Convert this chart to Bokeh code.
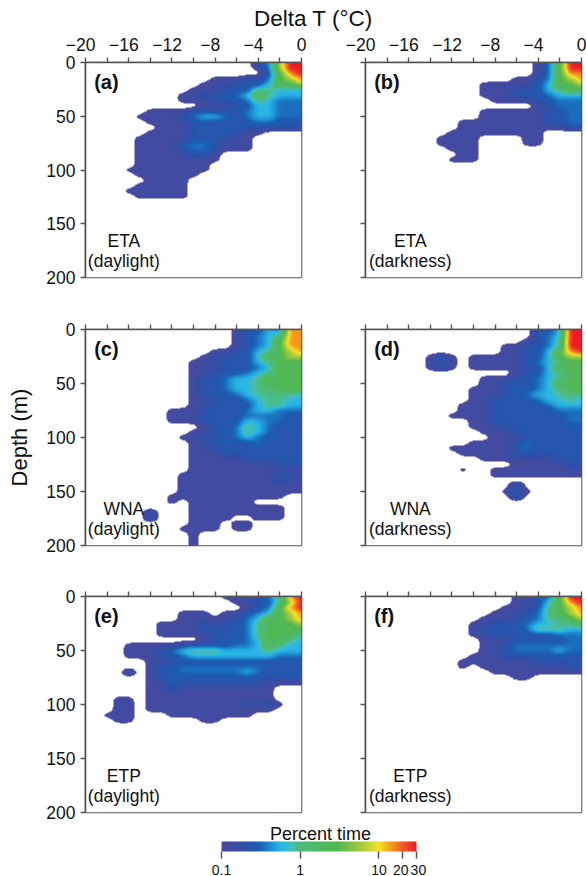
import numpy as np
from bokeh.embed import file_html
from bokeh.layouts import column, row
from bokeh.models import AllLabels, ColorBar, FixedTicker, Label, LogColorMapper, Range1d
from bokeh.plotting import figure
from bokeh.resources import INLINE
from bokeh.core.properties import value

# Each row is one depth (0, 5, 10 ... m); each character one Delta T (-20 ... 0 degC).
# A character is an index into LEVEL_PERCENT. Rows not listed are empty.
LEVEL_PERCENT = [0.075, 0.13, 0.24, 0.34, 0.58, 0.95, 2.5, 6.0, 15.0, 30.0]
DELTA_T = list(range(-20, 1))
DEPTH = list(range(0, 201, 5))

ETA_DAY = [
"000000000000000023799","000000000000000013799","000000000000000002689","000000000000111223678",
"000000000001112224667","000000000011122255444","000000000112223465444","000000000111222354333",
"000000000001112244333","000000111122222344333","000001111234432344333","000000111122222233222",
"000000011122222222222","000000111122222110000","000001111122221100000","000001111233211100000",
"000001111233211100000","000001111122100000000","000001111111100000000","000001111111000000000",
"000011111111000000000","000001111110000000000","000000111100000000000","000001111100000000000",
"000011111100000000000","000001111100000000000"]
ETA_NIGHT = [
"000000000000000013699","000000000000000013699","000000000000000013688","000000000000001123678",
"000000000001111124667","000000000001112224566","000000000001112223444","000000000000111122333",
"000000000000000012333","000000000001111112233","000000000001111112233","000000000111111112233",
"000000000111111111122","000000001111111110000","000000011110000110000","000000011110000110000",
"000000001110000000000","000000000110000000000","000000001110000000000"]
WNA_DAY = [
"000000000000001224388","000000000000001234588","000000000000001234688","000000000000001234688",
"000000000000112245678","000000000001122246677","000000000011222245666","000000000011122234666",
"000000000011222345666","000000000012234456666","000000000012234456666","000000000012234455666",
"000000000012223455554","000000000011222345544","000000000011222245544","000000001112222344333",
"000000001112222333322","000000001112222443322","000000000001223543222","000000000011223543222",
"000000000112223432222","000000000011222232222","000000000011222222222","000000000011122222222",
"000000000011111222222","000000000011111111222","000000000011111111111","000000000111111111221",
"000000000111111111211","000000000111111111111","000000000111111111111","000000001111111111100",
"000000001011111100000","000000000011111111100","000000200011111111100","000000200011110011100",
"000000000011101100000","000000000111101100000","000000000010000000000","000000000010000000000",
"000000000010000000000"]
WNA_NIGHT = [
"000000000000000022499","000000000000000023499","000000000000000123599","000000000000011223599",
"000000000000011224689","000000121011111224677","000000121011111234566","000000121011111224666",
"000000000000001224566","000000000001112234566","000000000001122234666","000000000011122234566",
"000000000011122344555","000000000011222234454","000000000111222223444","000000000111222222333",
"000000001111222222233","000000000011222222233","000000000011122222222","000000000001112222222",
"000000000000111222222","000000000011112322222","000000001111112322222","000000000111112222222",
"000000000001111111222","000000000000001111122","000000000100111111111","000000000000111111111",
"000000000000000000000","000000000000003000000","000000000000012100000","000000000000003000000"]
ETP_DAY = [
"000000000000011123589","000000000000001122579","000000000000000123689","000000000111011234678",
"000000000111112346678","000000011112122356667","000000011112222356666","000000011111222356665",
"000000000001222346654","000011111222223346544","000011123455544445444","000011122344444444333",
"000000112222222222222","000000122333333332222","000020122333333432222","000000122222222222222",
"000000113222222221111","000000112111111111000","000000111111111111000","000110111111111111000",
"000110111111111212100","000110111111111111000","001110001111111100000","000110000001100000000"]
ETP_NIGHT = [
"000000000000001123699","000000000000001124689","000000000000011125678","000000000000111235678",
"000000000001112235567","000000000011222344556","000000000012222355544","000000000011222222333",
"000000000001112222233","000000000001123333333","000000000001123333433","000000000011122222222",
"000000000111111122222","000000000101111111122","000000000000111111111","000000000000001100000"]

PANEL_LETTERS = ["(a)", "(b)", "(c)", "(d)", "(e)", "(f)"]
REGIONS = ["ETA", "ETA", "WNA", "WNA", "ETP", "ETP"]
LIGHT = ["(daylight)", "(darkness)", "(daylight)", "(darkness)", "(daylight)", "(darkness)"]
X_TICKS = [-20, -16, -12, -8, -4, 0]
X_MINOR = [-18, -14, -10, -6, -2]
Y_TICKS = [0, 50, 100, 150, 200]
BAR_TICKS = [0.1, 1, 10, 20, 30]
BAR_LABELS = ["0.1", "1", "10", "20\u00a0", "\u00a030"]
STOPS = [(0.1, "#4b4a9f"), (0.2, "#2f50a8"), (0.3, "#1b5fb4"), (0.42, "#1e8fd2"), (0.58, "#2ab7e8"),
         (0.8, "#46c0ae"), (1.0, "#4dbb7c"), (3.0, "#52b84f"), (6.0, "#a6cb3e"), (10.0, "#f5e428"),
         (15.0, "#f7941e"), (20.0, "#f15a29"), (30.0, "#ed1c24")]

FONT = "Liberation Sans"
AXIS = "#555555"


def make_palette(n=256):
    pos = np.log10([s[0] for s in STOPS])
    rgb = np.array([[int(s[1][i:i + 2], 16) for i in (1, 3, 5)] for s in STOPS], float)
    t = np.linspace(pos[0], pos[-1], n)
    chan = [np.interp(t, pos, rgb[:, k]) for k in range(3)]
    return ["#%02x%02x%02x" % (int(r), int(g), int(b)) for r, g, b in zip(*chan)]


MAPPER = LogColorMapper(palette=make_palette(), low=0.1, high=30.02, low_color="#ffffff", high_color="#ed1c24")


def blur(a, sigma, axis):
    r = int(3 * sigma)
    k = np.exp(-0.5 * (np.arange(-r, r + 1) / sigma) ** 2)
    k /= k.sum()
    a = np.moveaxis(a, axis, 0)
    pad = np.concatenate([np.repeat(a[:1], r, 0), a, np.repeat(a[-1:], r, 0)], 0)
    out = np.apply_along_axis(lambda v: np.convolve(v, k, "valid"), 0, pad)
    return np.moveaxis(out, 0, axis)


def render_grid(rows, nx=216, ny=216):
    g = np.zeros((len(DEPTH), len(DELTA_T)))
    for i, r in enumerate(rows):
        for j, c in enumerate(r):
            g[i, j] = int(c)
    vals = np.log10(np.array(LEVEL_PERCENT))[g.astype(int)]
    xs = np.linspace(DELTA_T[0], DELTA_T[-1], nx)
    ys = np.linspace(DEPTH[0], DEPTH[-1], ny)
    a = np.array([np.interp(xs, DELTA_T, v) for v in vals])
    a = np.array([np.interp(ys, DEPTH, a[:, j]) for j in range(nx)]).T
    a = blur(blur(a, 2.6, 1), 1.8, 0)
    return 10 ** a


def x_label(v):
    # The minus sign hangs to the left: the digits are what sits over the tick.
    return "\u2212%d\u00a0\u00a0" % -v if v < 0 else str(v)


def panel(idx, rows):
    left = idx % 2 == 0
    top = idx < 2
    tops = [31, 40, 39]
    bottoms = [12, 12, 10]
    frames = [215, 216, 216]
    k = idx // 2
    p = figure(
        width=(85 + 216 + 44) if left else (20 + 216 + 5),
        height=tops[k] + frames[k] + bottoms[k],
        frame_width=216, frame_height=frames[k],
        x_range=Range1d(-20, 0), y_range=Range1d(200, 0),
        x_axis_location="above", y_axis_location="left",
        min_border_left=85 if left else 20, min_border_right=44 if left else 5,
        min_border_top=tops[k], min_border_bottom=bottoms[k],
        toolbar_location=None, output_backend="svg",
    )
    p.image(image=[render_grid(rows)], x=-20, y=0, dw=20, dh=200, color_mapper=MAPPER)
    p.grid.visible = False
    p.outline_line_color = AXIS
    p.outline_line_width = 1.6
    p.background_fill_color = "white"

    xa, ya = p.xaxis[0], p.yaxis[0]
    xa.ticker = FixedTicker(ticks=X_TICKS, minor_ticks=X_MINOR)
    ya.ticker = FixedTicker(ticks=Y_TICKS)
    xa.major_label_overrides = {v: (x_label(v) if top else "") for v in X_TICKS}
    ya.major_label_overrides = {v: (str(v) if left else "") for v in Y_TICKS}
    for a in (xa, ya):
        a.axis_line_color = AXIS
        a.axis_line_width = 1.6
        a.major_tick_line_color = AXIS
        a.major_tick_line_width = 1.4
        a.major_tick_in = 0
        a.major_tick_out = 5
        a.minor_tick_line_color = AXIS
        a.minor_tick_line_width = 1.4
        a.minor_tick_in = 0
        a.minor_tick_out = 5
        a.major_label_text_font = FONT
        a.major_label_text_color = "#111111"
        a.major_label_text_font_size = "17.5px"
        a.major_label_standoff = 3
    xa.major_label_policy = AllLabels()
    ya.major_label_standoff = 5
    ya.minor_tick_line_color = None
    if idx == 2:
        ya.axis_label = "Depth (m)"
        ya.axis_label_text_font = FONT
        ya.axis_label_text_font_size = "22px"
        ya.axis_label_text_font_style = "normal"
        ya.axis_label_text_color = "#111111"
        ya.axis_label_standoff = 11

    tx = -16.45 if left else -15.85
    p.text(x=[-19.2], y=[18.5], text=[PANEL_LETTERS[idx]], text_font=value(FONT), text_font_style="bold",
           text_font_size="20px", text_baseline="middle", text_color="#111111")
    p.text(x=[tx, tx], y=[166, 185], text=[REGIONS[idx], LIGHT[idx]], text_font=value(FONT),
           text_font_size="17.5px", text_baseline="middle", text_align="center", text_color="#111111")
    return p


panels = [panel(i, r) for i, r in enumerate([ETA_DAY, ETA_NIGHT, WNA_DAY, WNA_NIGHT, ETP_DAY, ETP_NIGHT])]


def strip(height):
    s = figure(width=586, height=height, x_range=Range1d(0, 586), y_range=Range1d(0, height),
               min_border=0, toolbar_location=None, output_backend="svg")
    s.axis.visible = False
    s.grid.visible = False
    s.outline_line_color = None
    return s


header = strip(31)
header.add_layout(Label(x=313, y=13, x_units="screen", y_units="screen", text="Delta T (\u00b0C)",
                        text_font=FONT, text_font_size="22.5px", text_align="center",
                        text_baseline="middle", text_color="#111111"))

footer = strip(54)
bar = ColorBar(color_mapper=MAPPER, location=(221, -4), width=195, height=10, orientation="horizontal",
               ticker=FixedTicker(ticks=BAR_TICKS), major_label_overrides=dict(zip(BAR_TICKS, BAR_LABELS)),
               major_label_policy=AllLabels(),
               major_tick_in=0, major_tick_out=7, major_tick_line_color=AXIS, major_tick_line_width=1.5,
               major_label_text_font=FONT, major_label_text_font_size="14px", major_label_text_color="#111111",
               label_standoff=3, padding=0, margin=0, bar_line_color=None, border_line_color=None,
               background_fill_color=None)
footer.add_layout(bar, "center")
footer.add_layout(Label(x=320, y=43, x_units="screen", y_units="screen", text="Percent time",
                        text_font=FONT, text_font_size="18px", text_align="center",
                        text_baseline="middle", text_color="#111111"))

page = column(header, row(panels[0], panels[1]), row(panels[2], panels[3]), row(panels[4], panels[5]), footer,
              spacing=0)
open("out.html", "w").write(file_html(page, INLINE))
